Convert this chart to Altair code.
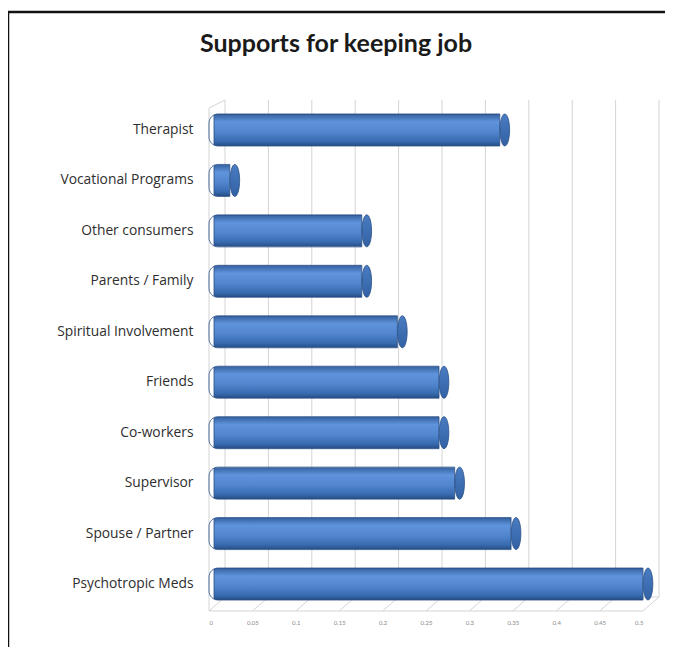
import altair as alt
import pandas as pd

categories = ["Therapist", "Vocational Programs", "Other consumers", "Parents / Family",
              "Spiritual Involvement", "Friends", "Co-workers", "Supervisor",
              "Spouse / Partner", "Psychotropic Meds"]
values = [0.335, 0.024, 0.176, 0.176, 0.217, 0.265, 0.265, 0.283, 0.348, 0.5]
ticks = [0, 0.05, 0.1, 0.15, 0.2, 0.25, 0.3, 0.35, 0.4, 0.45, 0.5]
title_text = "Supports for keeping job"

df = pd.DataFrame({"cat": categories, "val": values})
tick_df = pd.DataFrame({"t": ticks})

W, H = 434, 504
DEPTH = 16
GRID = "#d4d4d4"

xscale = alt.Scale(domain=[0, 0.5], nice=False)
yscale = alt.Scale(domain=categories, paddingInner=0.37, paddingOuter=0.18)

# back wall gridlines
grid = alt.Chart(tick_df).mark_rule(color=GRID, strokeWidth=1, xOffset=DEPTH).encode(
    x=alt.X("t:Q", scale=xscale), y=alt.value(-5), y2=alt.value(H - 12))
# floor diagonals
diag = alt.Chart(tick_df).mark_rule(color=GRID, strokeWidth=1, x2Offset=DEPTH).encode(
    x=alt.X("t:Q", scale=xscale), x2="t:Q", y=alt.value(H + 2), y2=alt.value(H - 12))
# back floor line and left edges
edges_df = pd.DataFrame({"a": [0.0], "b": [0.5]})
back_floor = alt.Chart(edges_df).mark_rule(color=GRID, xOffset=DEPTH, x2Offset=DEPTH).encode(
    x=alt.X("a:Q", scale=xscale), x2="b:Q", y=alt.value(H - 12))
front_floor = alt.Chart(edges_df).mark_rule(color=GRID).encode(
    x=alt.X("a:Q", scale=xscale), x2="b:Q", y=alt.value(H + 2))
left_edge = alt.Chart(edges_df).mark_rule(color=GRID).encode(
    x=alt.X("a:Q", scale=xscale), y=alt.value(3), y2=alt.value(H + 2))
top_slant = alt.Chart(edges_df).mark_rule(color=GRID, x2Offset=DEPTH).encode(
    x=alt.X("a:Q", scale=xscale), x2="a:Q", y=alt.value(3), y2=alt.value(-5))

grad = alt.Gradient(gradient="linear", x1=0, x2=0, y1=0, y2=1, stops=[
    alt.GradientStop(color="#34609e", offset=0),
    alt.GradientStop(color="#5f94dc", offset=0.25),
    alt.GradientStop(color="#5287d0", offset=0.55),
    alt.GradientStop(color="#386bb0", offset=0.85),
    alt.GradientStop(color="#264d84", offset=1)])

bars = alt.Chart(df).mark_bar(size=32, xOffset=5, cornerRadiusTopLeft=9,
                              cornerRadiusBottomLeft=9, color=grad,
                              stroke="#2a4f86", strokeWidth=0.8).encode(
    x=alt.X("val:Q", scale=xscale,
            axis=alt.Axis(values=ticks, grid=False, ticks=False, domain=False,
                          labelFontSize=6, labelColor="#8a8a8a", labelPadding=10,
                          labelFont="Lato", title=None, format="~g")),
    y=alt.Y("cat:N", scale=yscale, sort=categories,
            axis=alt.Axis(ticks=False, domain=False, labelFontSize=13.8, labelFont="Open Sans",
                          labelColor="#2e2e2e", labelPadding=16, title=None)))

ellipse = "M0,-1 A0.3,1 0 1,1 0,1 A0.3,1 0 1,1 0,-1 Z"
cap_grad = alt.Gradient(gradient="linear", x1=0, x2=0, y1=0, y2=1, stops=[
    alt.GradientStop(color="#4a7cc2", offset=0),
    alt.GradientStop(color="#3262a4", offset=1)])
caps = alt.Chart(df).mark_point(shape=ellipse, size=1024, filled=True, fill=cap_grad,
                                 stroke="#2a4f86", strokeWidth=0.8, opacity=1,
                                 xOffset=5).encode(
    x=alt.X("val:Q", scale=xscale), y=alt.Y("cat:N", scale=yscale, sort=categories))

title = alt.Chart(edges_df).mark_text(text=title_text, font="Lato", fontSize=25,
                                      fontWeight="bold", color="#1a1a1a",
                                      align="center", baseline="alphabetic").encode(
    x=alt.value(127), y=alt.value(-53))

frame_top = alt.Chart(edges_df).mark_rule(color="#111111", strokeWidth=2.5).encode(
    x=alt.value(-201), x2=alt.value(470), y=alt.value(-93))
frame_left = alt.Chart(edges_df).mark_rule(color="#111111", strokeWidth=2.5).encode(
    x=alt.value(-201), y=alt.value(-94), y2=alt.value(560))

chart = alt.layer(grid, diag, back_floor, front_floor, left_edge, top_slant,
                  bars, caps, title, frame_top, frame_left).properties(
    width=W, height=H,
    autosize=alt.AutoSizeParams(type="none"),
    padding={"left": 201, "top": 97, "right": 22, "bottom": 38},
    background="white",
).configure_view(stroke=None, clip=False)

chart.save("out.html", embed_options={"renderer": "svg", "actions": False})
